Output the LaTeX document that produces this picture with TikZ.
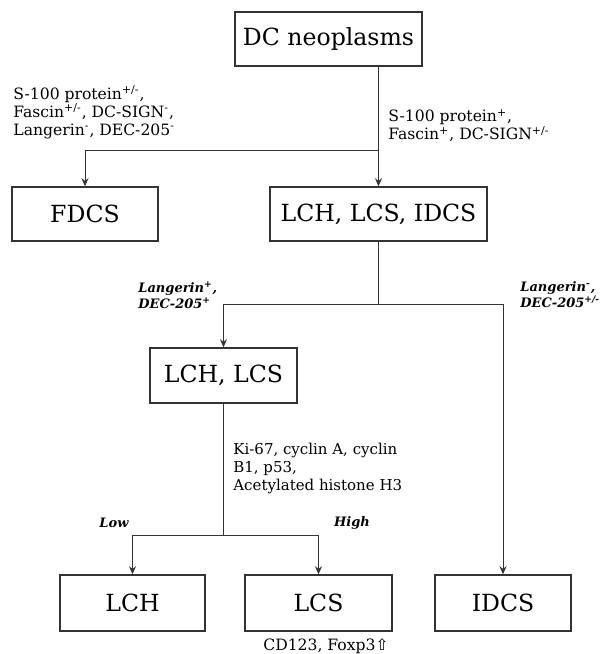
\documentclass[tikz,border=0pt]{standalone}
\usepackage{fontspec}
\setmainfont{DejaVu Serif}
\newfontfamily\arrowfont{DejaVu Sans}
\usetikzlibrary{arrows.meta}
\tikzset{
  % Riquadri delle diagnosi
  box/.style={draw=black!80, line width=0.75pt, minimum height=27pt,
    inner sep=0pt, font=\fontsize{11.8}{14}\selectfont},
  % Testo dei marcatori
  marker/.style={font=\fontsize{7.8}{9}\selectfont, align=left, inner sep=0pt},
  % Etichette dei rami (grassetto corsivo)
  branch/.style={font=\bfseries\itshape\fontsize{6.5}{8.3}\selectfont,
    align=left, inner sep=0pt},
  link/.style={draw=black!80, line width=0.5pt},
  arr/.style={link, -{Stealth[length=4pt,width=3.5pt]}}
}
\newcommand{\supP}{\textsuperscript{+}}
\newcommand{\supM}{\textsuperscript{-}}
\newcommand{\supPM}{\textsuperscript{+/-}}

\begin{document}
\begin{tikzpicture}[x=0.5pt, y=-0.5pt]
  \useasboundingbox (0,0) rectangle (608,654);

  % Riquadri
  \node[box, minimum width=93.5pt] (dc) at (328.5,39) {DC neoplasms};
  \node[box, minimum width=73pt] (fdcs) at (85,214) {FDCS};
  \node[box, minimum width=108.5pt] (lli) at (378.5,214) {LCH, LCS, IDCS};
  \node[box, minimum width=73.5pt, minimum height=27.5pt] (ll) at (223.5,375.5) {LCH, LCS};
  \node[box, minimum width=72.5pt, minimum height=28pt] (lch) at (132.5,603) {LCH};
  \node[box, minimum width=73.5pt, minimum height=28pt] (lcs) at (318.5,603) {LCS};
  \node[box, minimum width=68pt, minimum height=28pt] (idcs) at (503,603) {IDCS};

  % Marcatori
  \node[marker, anchor=north west] (negmk) at (13,85)
    {S-100 protein\supPM,\\ Fascin\supPM, DC-SIGN\supM,\\ Langerin\supM, DEC-205\supM};
  \node[marker, anchor=north west] (posmk) at (388,109)
    {S-100 protein\supP,\\ Fascin\supP, DC-SIGN\supPM};
  \node[branch, anchor=north west] (langpos) at (138,281) {Langerin\supP,\\ DEC-205\supP};
  \node[branch, anchor=north west] (langneg) at (520,281) {Langerin\supM,\\ DEC-205\supPM};
  \node[marker, font=\fontsize{7.5}{9}\selectfont, anchor=north west] (prolif) at (233,443)
    {Ki-67, cyclin A, cyclin\\ B1, p53,\\ Acetylated histone H3};
  \node[branch] (low) at (114,523) {Low};
  \node[branch] (high) at (352,523) {High};
  \node[marker] (cdfox) at (326,646) {CD123, Foxp3{\arrowfont ⇧}};

  % Collegamenti
  \coordinate (j1) at (lli.north |- 0,150);
  \draw[link] (dc.south -| j1) -- (j1);
  \draw[arr] (j1) -| (fdcs.north);
  \draw[arr] (j1) -- (lli.north);

  \coordinate (j2) at (lli.south |- 0,304);
  \draw[link] (lli.south) -- (j2);
  \draw[arr] (j2) -| (ll.north);
  \draw[arr] (j2) -| (idcs.north);

  \coordinate (j3) at (ll.south |- 0,535);
  \draw[link] (ll.south) -- (j3);
  \draw[arr] (j3) -| (lch.north);
  \draw[arr] (j3) -| (lcs.north);
\end{tikzpicture}
\end{document}
